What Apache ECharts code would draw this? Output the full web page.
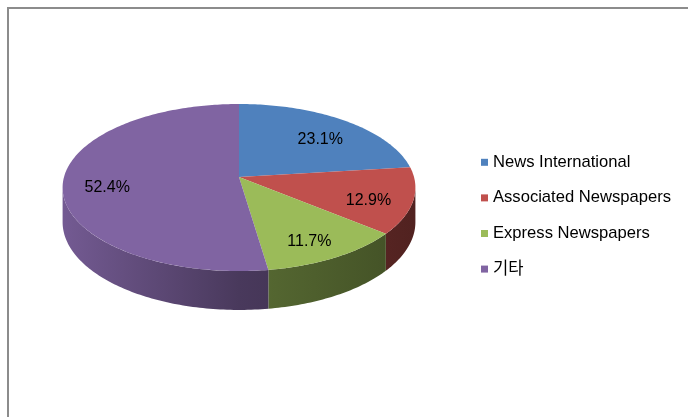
<!DOCTYPE html>
<html>
<head>
<meta charset="utf-8">
<script src="https://cdn.jsdelivr.net/npm/echarts@6/dist/echarts.min.js"></script>
<style>
  html, body { margin: 0; padding: 0; background: #fff; }
  #main { width: 688px; height: 417px; }
</style>
</head>
<body>
<div id="main"></div>
<script>
const categories = ['News International', 'Associated Newspapers', 'Express Newspapers', '기타'];
const shares = [23.1, 12.9, 11.7, 52.4];
const palette = ['#4F81BD', '#C0504D', '#9BBB59', '#8064A2'];

// 3D pie geometry (perspective-tilted disc)
const CX = 239, CY = 177, RX = 175, RY = 82.2, K = 0.126, DEPTH = 34;
const SIL = Math.acos(-K); // silhouette angle on the right side

const total = shares.reduce((a, b) => a + b, 0);

function proj(theta, r, drop) {
  const u = r * Math.sin(theta);
  const v = r * Math.cos(theta);
  const s = 1 / (1 + K * v);
  const rimS = 1 / (1 + K * Math.cos(theta));
  return [CX + RX * u * s, CY - RY * v * s + drop * DEPTH * rimS];
}

function shade(hex, f) {
  const n = parseInt(hex.slice(1), 16);
  const r = Math.round(((n >> 16) & 255) * f);
  const g = Math.round(((n >> 8) & 255) * f);
  const b = Math.round((n & 255) * f);
  return `rgb(${r},${g},${b})`;
}

function arc(a, b, drop) {
  const pts = [];
  const steps = Math.max(2, Math.ceil(Math.abs(b - a) / (Math.PI / 180)));
  for (let j = 0; j <= steps; j++) {
    pts.push(proj(a + (b - a) * j / steps, 1, drop));
  }
  return pts;
}

function renderSlice(i) {
  return function () {
    const before = shares.slice(0, i).reduce((a, b) => a + b, 0);
    const start = before / total * Math.PI * 2;
    const end = (before + shares[i]) / total * Math.PI * 2;
    const color = palette[i];
    const children = [];

    const a = Math.max(start, SIL);
    const b = Math.min(end, Math.PI * 2 - SIL);
    if (a < b) {
      const wall = arc(a, b, 0).concat(arc(b, a, 1));
      children.push({
        type: 'polygon',
        z2: 1,
        shape: { points: wall },
        style: {
          fill: new echarts.graphic.LinearGradient(CX - RX, 0, CX + RX, 0, [
            { offset: 0, color: shade(color, 0.9) },
            { offset: 0.5, color: shade(color, 0.57) },
            { offset: 1, color: shade(color, 0.42) }
          ], true)
        }
      });
    }

    children.push({
      type: 'polygon',
      z2: 2,
      shape: { points: [proj(0, 0, 0)].concat(arc(start, end, 0)) },
      style: { fill: color }
    });

    const mid = (start + end) / 2;
    const lp = proj(mid, 0.75, 0);
    children.push({
      type: 'text',
      z2: 3,
      x: lp[0],
      y: lp[1] + 6,
      style: {
        text: shares[i].toFixed(1) + '%',
        fill: '#000',
        font: '16px "Liberation Sans", Arial, sans-serif',
        align: 'center',
        verticalAlign: 'middle'
      }
    });

    return { type: 'group', children };
  };
}

const chart = echarts.init(document.getElementById('main'), null, { renderer: 'canvas' });

chart.setOption({
  animation: false,
  color: palette,
  legend: {
    orient: 'vertical',
    left: 481,
    top: 154,
    padding: 0,
    itemGap: 19,
    itemWidth: 7,
    itemHeight: 7,
    icon: 'rect',
    data: categories,
    textStyle: {
      color: '#000',
      fontSize: 16.6,
      lineHeight: 16,
      fontFamily: '"Liberation Sans", Arial, "Noto Sans CJK KR", sans-serif'
    }
  },
  graphic: [
    {
      type: 'rect',
      shape: { x: 8, y: 8, width: 720, height: 450 },
      style: { fill: 'none', stroke: '#8c8c8c', lineWidth: 2 }
    }
  ],
  series: categories.map((name, i) => ({
    type: 'custom',
    name,
    coordinateSystem: 'none',
    itemStyle: { color: palette[i] },
    data: [[shares[i]]],
    renderItem: renderSlice(i)
  }))
});
</script>
</body>
</html>
